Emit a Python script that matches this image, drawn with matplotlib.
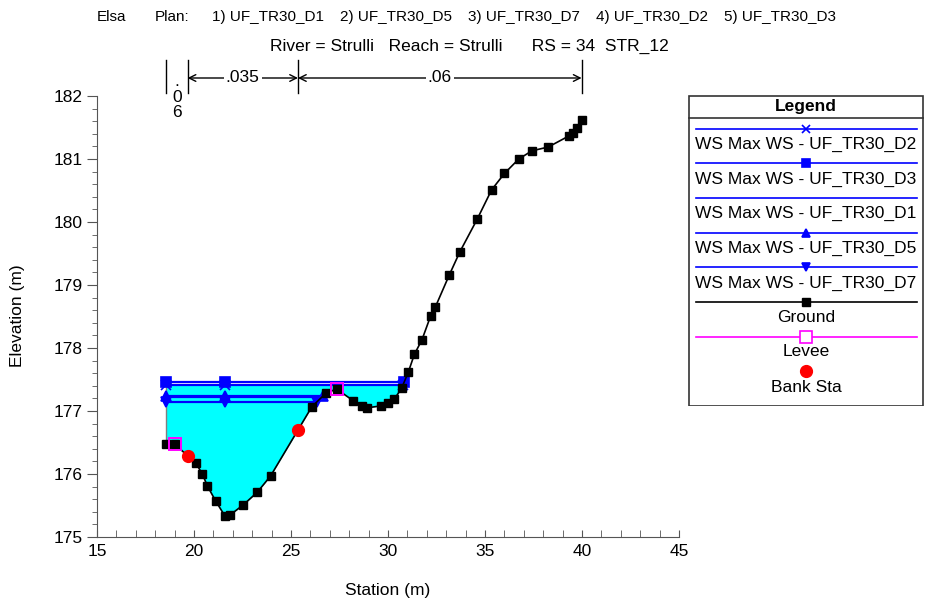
import numpy as np
import matplotlib
matplotlib.use('Agg')
import matplotlib.pyplot as plt
from matplotlib.transforms import blended_transform_factory
from matplotlib.patches import Rectangle

plt.rcParams['font.family'] = ['Liberation Sans', 'DejaVu Sans']

# ground profile (station, elevation)
station = [18.56, 19.02, 20.10, 20.43, 20.69, 21.12, 21.60, 21.86, 22.54, 23.26,
           23.95, 26.08, 26.79, 27.35, 28.22, 28.64, 28.90, 29.62, 30.02, 30.33,
           30.70, 31.05, 31.36, 31.75, 32.20, 32.44, 33.16, 33.71, 34.59, 35.34,
           36.00, 36.74, 37.42, 38.26, 39.35, 39.55, 39.76, 39.98]
elev = [176.47, 176.47, 176.17, 176.00, 175.81, 175.57, 175.33, 175.35, 175.51, 175.71,
        175.97, 177.07, 177.28, 177.35, 177.16, 177.08, 177.05, 177.08, 177.12, 177.19,
        177.36, 177.62, 177.90, 178.13, 178.51, 178.65, 179.16, 179.53, 180.04, 180.51,
        180.77, 181.00, 181.13, 181.19, 181.37, 181.42, 181.49, 181.62]

levee_sta = [19.02, 27.35]
bank_sta = [19.67, 25.36]
n_values = ['.06', '.035', '.06']

# max water surface per plan
ws_names = ['UF_TR30_D2', 'UF_TR30_D3', 'UF_TR30_D1', 'UF_TR30_D5', 'UF_TR30_D7']
ws_levels = [177.42, 177.46, 177.22, 177.24, 177.14]
ws_markers = ['x', 's', None, '^', 'v']
plans = ['UF_TR30_D1', 'UF_TR30_D5', 'UF_TR30_D7', 'UF_TR30_D2', 'UF_TR30_D3']

station = np.array(station)
elev = np.array(elev)


def ws_end(level):
    # first place from the left where ground climbs above the water surface
    for i in range(1, len(station)):
        if elev[i] >= level:
            return np.interp(level, [elev[i - 1], elev[i]], [station[i - 1], station[i]])
    return station[-1]


W, H = 928, 602
fig = plt.figure(figsize=(W / 100, H / 100), dpi=100)
ax = fig.add_axes([97 / W, 1 - 537 / H, (679 - 97) / W, (537 - 96) / H])

blue = '#0000ff'
ws_fill = ws_levels[0]
ax.fill_between(station, elev, ws_fill, where=elev <= ws_fill, interpolate=True,
                color='#00ffff', linewidth=0, zorder=1)
ax.plot([station[0], station[0]], [elev[0], max(ws_levels)], color='#808080', lw=1, zorder=2)

for lvl, mk in zip(ws_levels, ws_markers):
    xe = ws_end(lvl)
    ax.plot([station[0], station[6], xe], [lvl, lvl, lvl], color=blue, lw=1.6,
            marker=mk, markersize=6.5, markeredgewidth=1.2, zorder=3)

ax.plot(station, elev, color='black', lw=1.2, marker='s', markersize=5.8, zorder=4)
ax.plot(levee_sta, np.interp(levee_sta, station, elev), linestyle='none', marker='s',
        markersize=8.5, markerfacecolor='none', markeredgecolor='#ff00ff',
        markeredgewidth=1.4, zorder=5)
ax.plot(bank_sta, np.interp(bank_sta, station, elev), linestyle='none', marker='o',
        markersize=8.5, color='red', zorder=5)

ax.set_xlim(15, 45)
ax.set_ylim(175, 182)
ax.set_xticks(np.arange(15, 46, 5))
ax.set_xticks(np.arange(15, 46, 1), minor=True)
ax.set_yticks(np.arange(175, 183, 1))
ax.set_yticks(np.arange(175, 182.01, 0.2), minor=True)
for s in ['top', 'right']:
    ax.spines[s].set_visible(False)
for s in ['left', 'bottom']:
    ax.spines[s].set_color('#555555')
ax.tick_params(axis='x', which='both', direction='in', length=5, color='#555555',
               labelsize=12.5, pad=5)
ax.tick_params(axis='y', which='major', direction='out', length=7, color='#555555',
               labelsize=12.5)
ax.tick_params(axis='y', which='minor', direction='out', length=3.5, color='#555555')

fig.text(18 / W, 1 - 316 / H, 'Elevation (m)', rotation=90, ha='center', va='center', fontsize=12.5)
fig.text(388 / W, 1 - 590 / H, 'Station (m)', ha='center', va='center', fontsize=12.5)

# header
fig.text(97 / W, 1 - 17 / H, 'Elsa', va='center', fontsize=11)
fig.text(155 / W, 1 - 17 / H, 'Plan:', va='center', fontsize=11)
for k, p in enumerate(plans):
    fig.text((212 + 128 * k) / W, 1 - 17 / H, '%d) %s' % (k + 1, p), va='center', fontsize=11)
fig.text(270 / W, 1 - 46 / H, 'River = Strulli   Reach = Strulli      RS = 34  STR_12',
         va='center', fontsize=12.5)

# n values bar
tr = blended_transform_factory(ax.transData, fig.transFigure)
n_breaks = [station[0], bank_sta[0], bank_sta[1], station[-1]]
y_bar = 1 - 78 / H
for xb in n_breaks:
    ax.plot([xb, xb], [1 - 60 / H, 1 - 93 / H], color='black', lw=1, transform=tr, clip_on=False)
for i, nv in enumerate(n_values):
    x0, x1 = n_breaks[i], n_breaks[i + 1]
    xm = (x0 + x1) / 2
    if x1 - x0 < 2:
        # too narrow: write the value downwards
        ax.text(xm, 1 - 74 / H, '\n'.join(nv), transform=tr,
                ha='center', va='top', fontsize=12.5, linespacing=1.05)
        continue
    for xa in (x0, x1):
        ax.annotate('', xy=(xa, y_bar), xytext=(xm, y_bar), xycoords=tr, textcoords=tr,
                    arrowprops=dict(arrowstyle='->', lw=1, color='black',
                                    shrinkA=0, shrinkB=0, mutation_scale=12))
    ax.text(xm, y_bar, nv, transform=tr, ha='center', va='center', fontsize=12.5,
            bbox=dict(facecolor='white', edgecolor='none', pad=1.5))

# legend box drawn in pixel space
lg = fig.add_axes([688 / W, 1 - 406 / H, (924 - 688) / W, (406 - 95) / H])
lg.set_xlim(688, 924)
lg.set_ylim(406, 95)
lg.axis('off')
lg.add_patch(Rectangle((688.5, 95.5), 235, 310, fill=False, edgecolor='#333333', lw=1.2))
lg.plot([688.5, 923.5], [118, 118], color='#333333', lw=1.2)
lg.text(806, 106, 'Legend', ha='center', va='center', fontsize=12.5, fontweight='bold')
xc = 806
entries = [('WS Max WS - ' + n, blue, m) for n, m in zip(ws_names, ws_markers)]
for k, (lab, col, mk) in enumerate(entries):
    yl = 128.5 + 34.7 * k
    lg.plot([696, 917], [yl, yl], color=col, lw=1.2)
    if mk:
        lg.plot([xc], [yl], marker=mk, color=col, markersize=6, markeredgewidth=1.2)
    lg.text(xc, yl + 16, lab, ha='center', va='center', fontsize=12.5)
yl = 128.5 + 34.7 * 5
lg.plot([696, 917], [yl, yl], color='black', lw=1.2)
lg.plot([xc], [yl], marker='s', color='black', markersize=5.5)
lg.text(xc, yl + 15, 'Ground', ha='center', va='center', fontsize=12.5)
yl = 128.5 + 34.7 * 6
lg.plot([696, 917], [yl, yl], color='#ff00ff', lw=1.2)
lg.plot([xc], [yl], marker='s', markersize=8.5, markerfacecolor='white',
        markeredgecolor='#ff00ff', markeredgewidth=1.2)
lg.text(xc, yl + 15, 'Levee', ha='center', va='center', fontsize=12.5)
yl = 128.5 + 34.7 * 7
lg.plot([xc], [yl], marker='o', markersize=8.5, color='red')
lg.text(xc, yl + 16, 'Bank Sta', ha='center', va='center', fontsize=12.5)

fig.savefig('out.png', dpi=100)
